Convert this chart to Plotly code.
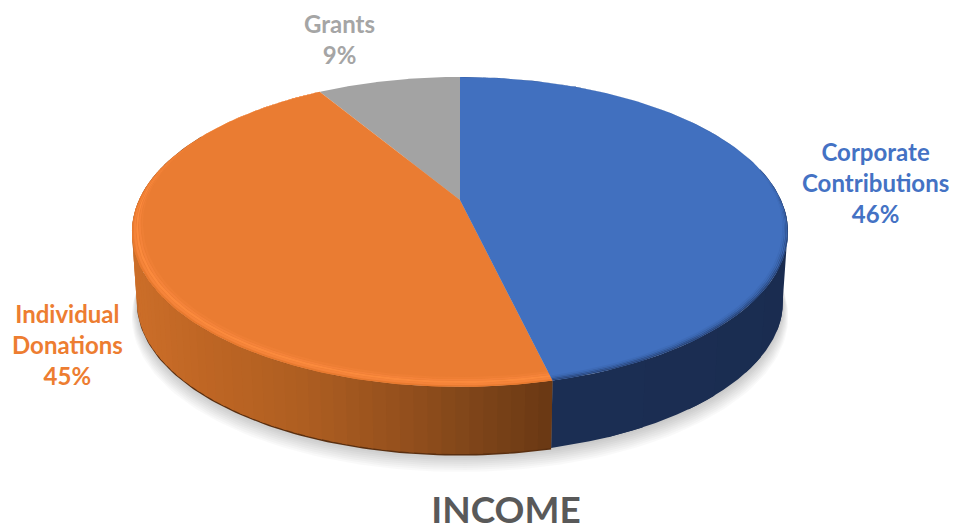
import numpy as np
import plotly.graph_objects as go

categories = ["Corporate<br>Contributions", "Individual<br>Donations", "Grants"]
values = [46.3, 45.1, 8.6]
percent_labels = ["46%", "45%", "9%"]

colors = ["#4170BF", "#EA7C32", "#A3A3A3"]
label_colors = ["#4472C4", "#ED7D31", "#A5A5A5"]
label_xy = [(875, 182), (67, 344), (339, 39)]

W, H = 957, 529
CX, CY = 460.0, 200.0
A, B, K = 321.0, 148.4, 0.206
DEPTH, BOT_S = 70.0, 0.985

total = sum(values)
edges = np.concatenate([[0], np.cumsum(values)]) / total * 2 * np.pi


def proj(theta, s=1.0, dx=0.0, dy=0.0):
    X, Y = np.sin(theta), np.cos(theta)
    w = 1 + K * Y
    return CX + dx + s * A * X / w, CY + dy - s * B * Y / w


def hexrgb(h):
    return np.array([int(h[i:i + 2], 16) for i in (1, 3, 5)], float)


def mix(c1, c2, t):
    v = hexrgb(c1) * (1 - t) + hexrgb(c2) * t
    return "rgb(%d,%d,%d)" % tuple(v.round())


fig = go.Figure()


def poly(x, y, color, opacity=1.0):
    fig.add_trace(go.Scatter(
        x=list(x), y=list(y), mode="lines", fill="toself", fillcolor=color,
        line=dict(width=0), opacity=opacity, hoverinfo="skip", showlegend=False))


full = np.linspace(0, 2 * np.pi, 240)

# soft shadow beneath the pie
for i in range(9):
    sx, sy = proj(full, BOT_S + 0.002 * i, 0, DEPTH + 2 + 1.6 * i)
    poly(sx, sy, "#000000", 0.022)

# dark lower lip of the side wall
lx, ly = proj(np.linspace(edges[1], 5.2, 120), BOT_S, 0, DEPTH + 1.5)
ux, uy = proj(np.linspace(edges[1], 5.2, 120), 1.0)
poly(np.r_[lx, ux[::-1]], np.r_[ly, uy[::-1]], "#5A2F10")


def side_wall(t0, t1, stops, n):
    xs_stop = [s[0] for s in stops]
    ts = np.linspace(t0, t1, n + 1)
    step = (t1 - t0) / n
    for a in ts[:-1]:
        seg = np.linspace(a, min(a + step * 1.4, t1), 6)
        tx, ty = proj(seg, 1.0)
        bx, by = proj(seg, BOT_S, 0, DEPTH)
        xm = tx.mean()
        j = int(np.searchsorted(xs_stop, xm))
        j = min(max(j, 1), len(stops) - 1)
        f = np.clip((xm - stops[j - 1][0]) / (stops[j][0] - stops[j - 1][0]), 0, 1)
        poly(np.r_[tx, bx[::-1]], np.r_[ty, by[::-1]], mix(stops[j - 1][1], stops[j][1], f))


# blue side wall
side_wall(1.35, edges[1], [(540, "#1B2E54"), (800, "#1A2C50")], 6)
# orange side wall, dark toward the front right
side_wall(edges[1], 5.0,
          [(130, "#CC6E29"), (200, "#BF6624"), (300, "#AE5E21"),
           (400, "#94501D"), (470, "#7F4519"), (551, "#693813")], 60)

# top face: a flat wedge, then bevel bands that taper away toward the back
bevel = {
    0: [(1.000, 0.0, "#2A477C"), (0.9945, -0.4, "#30528F"), (0.990, -0.8, "#3862A8"),
        (0.985, -1.2, "#3E6BB7"), (0.980, -1.6, colors[0])],
    1: [(1.000, 0.0, "#E87A2F"), (0.994, -0.5, "#F5843A"), (0.986, -1.2, "#FB8A3D"),
        (0.978, -1.9, "#F4833A"), (0.970, -2.4, "#EE7F35"), (0.962, -2.9, colors[1])],
}


def taper(theta):
    return np.clip(0.75 - np.cos(theta), 0, 1)


for idx in (2, 1, 0):
    t0, t1 = edges[idx], edges[idx + 1]
    arc = np.linspace(t0, t1, 160)
    px, py = proj(arc)
    poly(np.r_[CX, px, CX], np.r_[CY, py, CY], colors[idx])
    layers = bevel.get(idx, [])
    for (s1, d1, col), (s2, d2, _) in zip(layers[:-1], layers[1:]):
        wt = taper(arc)
        ox, oy = proj(arc, 1 - (1 - s1) * wt, 0, d1 * wt)
        ix, iy = proj(arc, 1 - (1 - s2 - 0.002) * wt, 0, (d2 - 0.3) * wt)
        poly(np.r_[ox, ix[::-1]], np.r_[oy, iy[::-1]], col)

for cat, pct, col, (lx_, ly_) in zip(categories, percent_labels, label_colors, label_xy):
    fig.add_annotation(x=lx_, y=ly_, text=f"<b>{cat}<br>{pct}</b>", showarrow=False,
                       xanchor="center", yanchor="middle", align="center",
                       font=dict(family="Lato", size=24, color=col))

fig.update_layout(
    width=W, height=H, margin=dict(l=0, r=0, t=0, b=0),
    paper_bgcolor="white", plot_bgcolor="white", showlegend=False,
    title=dict(text="<b>INCOME</b>", x=506 / W, xanchor="center", y=1 - 510 / H, yanchor="middle",
               font=dict(family="Lato", size=37, color="#595959")),
    xaxis=dict(range=[0, W], visible=False, fixedrange=True),
    yaxis=dict(range=[H, 0], visible=False, fixedrange=True),
)
fig.write_html("out.html", config=dict(displayModeBar=False),
               post_script="document.body.style.margin='0';document.body.style.overflow='hidden';")
